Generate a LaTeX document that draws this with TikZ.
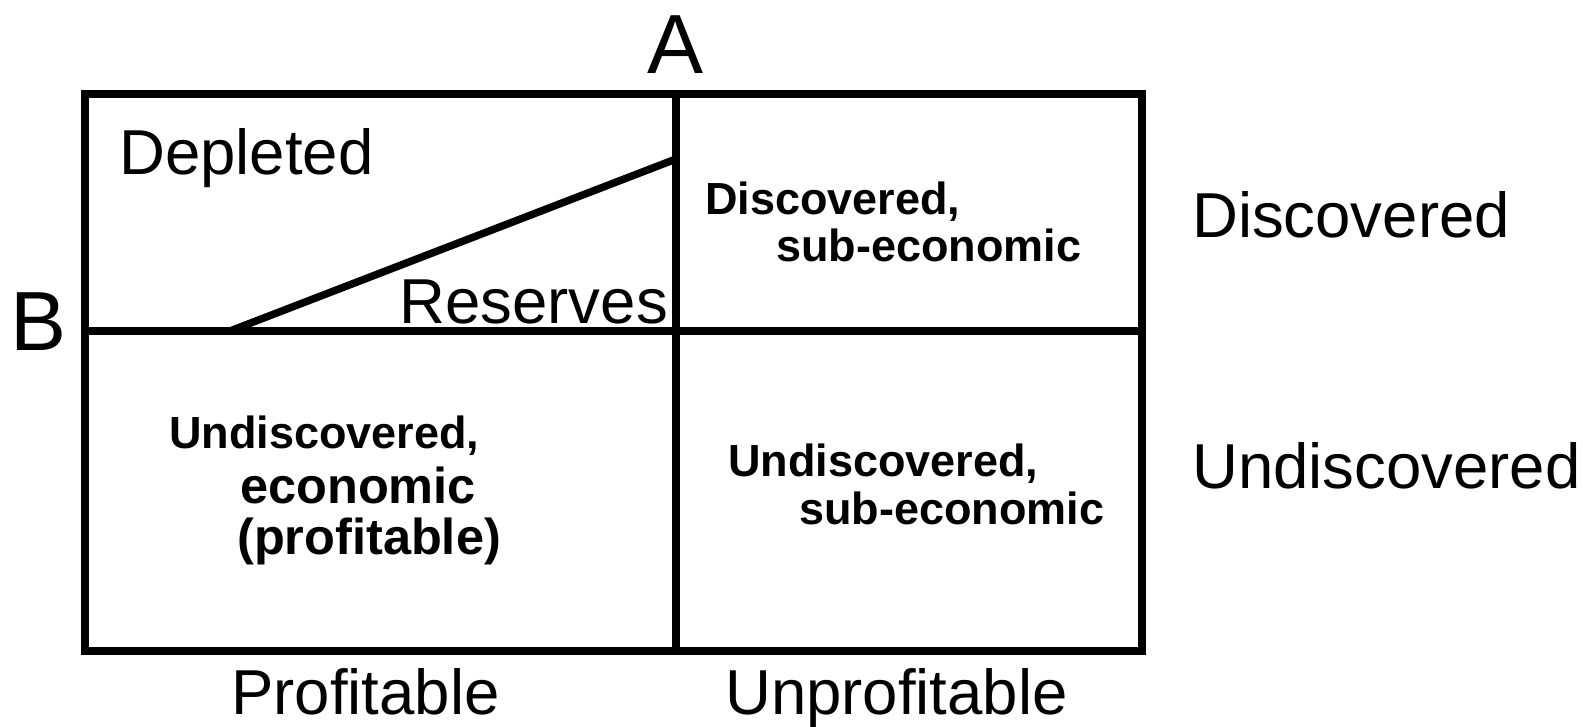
\documentclass[tikz,border=0pt]{standalone}
\usepackage{fontspec}
\setmainfont{Liberation Sans}
\begin{document}
\begin{tikzpicture}[x=1pt,y=-1pt,
  frame/.style={line width=7.5pt, line join=miter},
  lab/.style={inner sep=0pt, font=\fontsize{63.5}{70}\selectfont},
  big/.style={inner sep=0pt, font=\fontsize{84}{90}\selectfont},
  bld/.style={inner sep=0pt, font=\bfseries\fontsize{45}{50}\selectfont},
  bldl/.style={inner sep=0pt, font=\bfseries\fontsize{50.5}{55}\selectfont}]
\useasboundingbox (0,0) rectangle (1583,726);
\coordinate (tl) at (85,94);
\coordinate (br) at (1142,651);
\coordinate (vt) at (676,94);
\coordinate (vb) at (676,651);
\coordinate (hl) at (85,331);
\coordinate (hr) at (1142,331);
\coordinate (d1) at (230,331);
\coordinate (d2) at (676,159);
\draw[frame] (tl) rectangle (br);
\draw[frame] (vt) -- (vb);
\draw[frame] (hl) -- (hr);
\draw[frame] (d1) -- (d2);
% axis letters
\node[big, anchor=base] (A) at (676,73) {A};
\node[big, anchor=base west] (B) at (10,350) {B};
% regular labels
\node[lab, anchor=base west] (depl) at (119,174) {Depleted};
\node[lab, anchor=base east] (res) at (668,323) {Reserves};
\node[lab, anchor=base west] (disc) at (1192,237) {Discovered};
\node[lab, anchor=base west] (undisc) at (1192,488) {Undiscovered};
\node[lab, anchor=base west] (prof) at (231,714) {Profitable};
\node[lab, anchor=base west] (unprof) at (725,714) {Unprofitable};
% bold cell labels
\node[bld, anchor=base west] (ds1) at (705,214) {Discovered,};
\node[bld, anchor=base west] (ds2) at (776,261) {sub-economic};
\node[bld, anchor=base west] (ue1) at (169,448) {Undiscovered,};
\node[bldl, anchor=base west] (ue2) at (240,503) {economic};
\node[bldl, anchor=base west] (ue3) at (237,554) {(profitable)};
\node[bld, anchor=base west] (us1) at (728,476) {Undiscovered,};
\node[bld, anchor=base west] (us2) at (799,524) {sub-economic};
\end{tikzpicture}
\end{document}
